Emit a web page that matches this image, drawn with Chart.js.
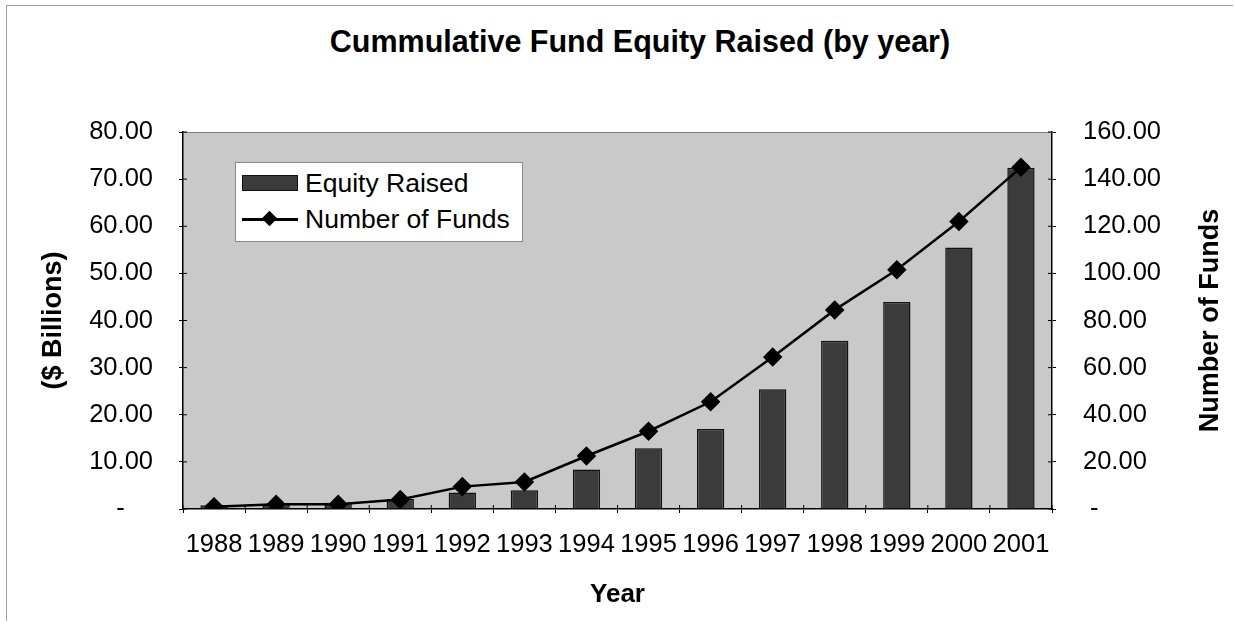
<!DOCTYPE html>
<html>
<head>
<meta charset="utf-8">
<script src="https://cdn.jsdelivr.net/npm/chart.js@4"></script>
<style>
  html, body { margin: 0; padding: 0; background: #fff; }
  body { width: 1235px; height: 634px; position: relative; overflow: hidden;
         font-family: "Liberation Sans", Arial, sans-serif; }
  #frame { position: absolute; left: 6px; top: 5px; width: 1226px; height: 615px;
           border-top: 1px solid #a0a0a0; border-left: 1px solid #a0a0a0; }
  #title { position: absolute; left: 0; top: 24px; width: 1280px; text-align: center;
           font-weight: bold; font-size: 30.5px; color: #000; }
  #wrap { position: absolute; left: 0; top: 0; width: 1235px; height: 634px; }
  #legend { position: absolute; left: 235px; top: 162px; width: 288px; height: 80px;
            background: #fff; border: 1px solid #8a8a8a; box-sizing: border-box; font-size: 26.5px; }
  .row { position: absolute; left: 6px; height: 32px; display: flex; align-items: center; }
  .swatch { width: 56px; height: 16px; background: #3b3b3b; border: 1.5px solid #111; box-sizing: border-box; }
  .lineKey { width: 56px; height: 16px; position: relative; }
  .lineKey:before { content: ''; position: absolute; left: 0; right: 0; top: 7px; height: 2.5px; background: #000; }
  .lineKey:after { content: ''; position: absolute; left: 22px; top: 2px; width: 11px; height: 11px;
                   background: #000; transform: rotate(45deg); }
  .row span { margin-left: 7px; }
</style>
</head>
<body>
<div id="frame"></div>
<div id="title">Cummulative Fund Equity Raised (by year)</div>
<div id="wrap"><canvas id="chart"></canvas></div>
<div id="legend">
  <div class="row" style="top:4px"><div class="swatch"></div><span>Equity Raised</span></div>
  <div class="row" style="top:40px"><div class="lineKey"></div><span>Number of Funds</span></div>
</div>
<script>
const years        = ['1988','1989','1990','1991','1992','1993','1994','1995','1996','1997','1998','1999','2000','2001'];
const equityRaised = [0.8, 1.0, 1.3, 2.1, 3.5, 4.0, 8.4, 12.9, 17.0, 25.4, 35.7, 43.9, 55.5, 72.4];
const numberFunds  = [1, 2, 2, 4, 9.5, 11.5, 22.5, 33, 45.5, 64.5, 84.5, 101.5, 122, 145];

const fam       = '"Liberation Sans", Arial, sans-serif';
const tickFont  = { family: fam, size: 25.5 };
const titleFont = { family: fam, size: 27, weight: 'bold' };

// plot area fill, top border, ticks that cross the axes, right axis title (reads upward)
const plotDeco = {
  id: 'plotDeco',
  beforeDraw(chart) {
    const {ctx, chartArea: a} = chart;
    ctx.save();
    ctx.fillStyle = '#c9c9c9';
    ctx.fillRect(a.left, a.top, a.right - a.left, a.bottom - a.top);
    ctx.restore();
  },
  afterDraw(chart) {
    const {ctx, chartArea: a, scales} = chart;
    ctx.save();
    ctx.strokeStyle = '#7a7a7a';
    ctx.lineWidth = 1;
    ctx.beginPath();
    ctx.moveTo(a.left, a.top + 0.5);
    ctx.lineTo(a.right, a.top + 0.5);
    ctx.stroke();
    ctx.strokeStyle = '#000';
    ctx.beginPath();
    scales.y.ticks.forEach((t, i) => {
      const y = scales.y.getPixelForTick(i);
      ctx.moveTo(a.left, y); ctx.lineTo(a.left + 4, y);
    });
    scales.y2.ticks.forEach((t, i) => {
      const y = scales.y2.getPixelForTick(i);
      ctx.moveTo(a.right, y); ctx.lineTo(a.right - 4, y);
    });
    const n = years.length, w = (scales.x.right - scales.x.left) / n;
    for (let i = 0; i <= n; i++) {
      const x = scales.x.left + i * w;
      ctx.moveTo(x, a.bottom); ctx.lineTo(x, a.bottom - 4);
    }
    ctx.stroke();

    ctx.translate(scales.y2.right - 24, (a.top + a.bottom) / 2);
    ctx.rotate(-Math.PI / 2);
    ctx.font = 'bold 27px ' + fam;
    ctx.fillStyle = '#000';
    ctx.textAlign = 'center';
    ctx.textBaseline = 'middle';
    ctx.fillText('Number of Funds', 0, 0);
    ctx.restore();
  }
};

new Chart(document.getElementById('chart'), {
  data: {
    labels: years,
    datasets: [
      {
        type: 'line',
        label: 'Number of Funds',
        data: numberFunds,
        yAxisID: 'y2',
        order: 0,
        borderColor: '#000',
        borderWidth: 2.5,
        pointStyle: 'rectRot',
        pointRadius: 8,
        pointBackgroundColor: '#000',
        pointBorderColor: '#000',
        tension: 0
      },
      {
        type: 'bar',
        label: 'Equity Raised',
        data: equityRaised,
        yAxisID: 'y',
        order: 1,
        backgroundColor: '#3b3b3b',
        borderColor: '#111',
        borderWidth: 1.5,
        categoryPercentage: 1,
        barPercentage: 0.44
      }
    ]
  },
  options: {
    responsive: true,
    maintainAspectRatio: false,
    animation: false,
    layout: { padding: { top: 132, left: 0, right: 0, bottom: 0 } },
    plugins: { legend: { display: false }, tooltip: { enabled: false } },
    scales: {
      x: {
        offset: true,
        grid: { display: true, offset: true, drawOnChartArea: false, tickLength: 4, color: '#000' },
        border: { color: '#000', width: 1.5 },
        ticks: { font: tickFont, color: '#000', padding: 17, maxRotation: 0, autoSkip: false },
        title: { display: true, text: 'Year', font: { ...titleFont, size: 26 }, color: '#000',
                 padding: { top: 0, bottom: 24 } },
        afterFit(s) { s.height = 125; }
      },
      y: {
        position: 'left',
        min: 0, max: 80,
        grid: { drawOnChartArea: false, tickLength: 4, color: '#000' },
        border: { color: '#000', width: 1.5 },
        ticks: { stepSize: 10, font: tickFont, color: '#000', padding: 26,
                 callback: v => v === 0 ? '-    ' : v.toFixed(2) },
        title: { display: true, text: '($ Billions)', font: titleFont, color: '#000', padding: { top: 37 } },
        afterFit(s) { s.width = 183; }
      },
      y2: {
        position: 'right',
        min: 0, max: 160,
        grid: { drawOnChartArea: false, tickLength: 4, color: '#000' },
        border: { color: '#000', width: 1.5 },
        ticks: { stepSize: 20, font: tickFont, color: '#000', padding: 27,
                 callback: v => v === 0 ? ' -' : v.toFixed(2) },
        afterFit(s) { s.width = 183; }
      }
    }
  },
  plugins: [plotDeco]
});
</script>
</body>
</html>
